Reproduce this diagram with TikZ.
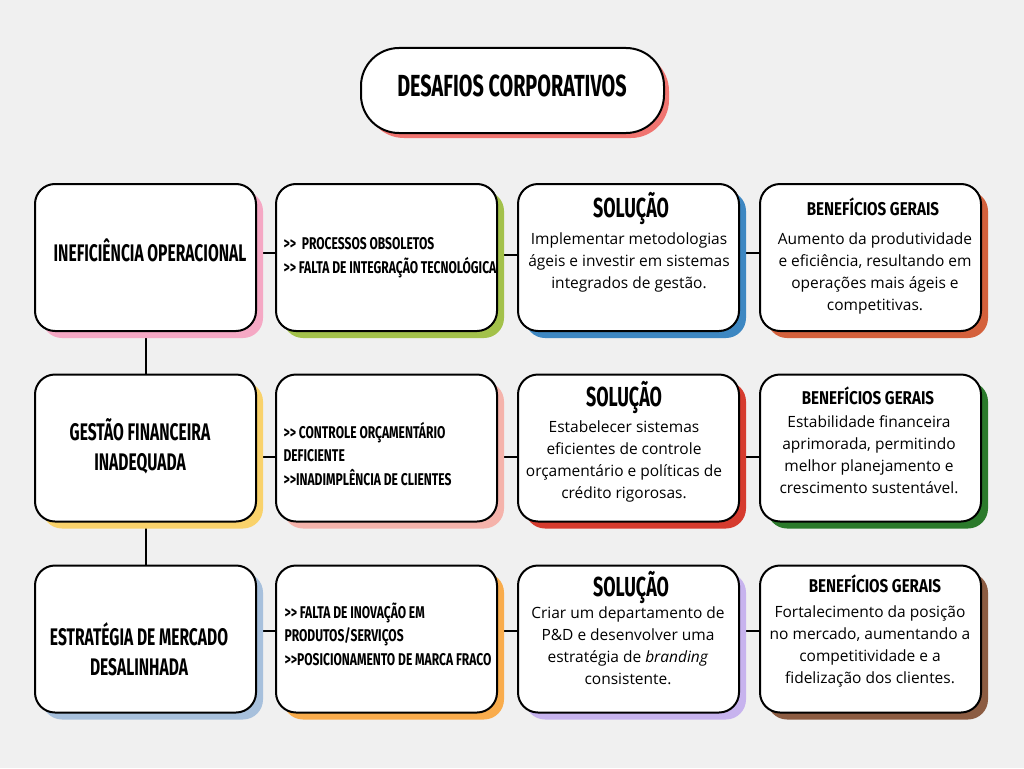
\documentclass[tikz,border=0pt]{standalone}
\usepackage{fontspec}
\setmainfont{Open Sans}
\newfontfamily\capsfont[FakeStretch=0.65]{Fira Sans}
\newfontfamily\capsmid[FakeStretch=0.71]{Fira Sans}
\newfontfamily\capswide[FakeStretch=0.82]{Fira Sans}
\usetikzlibrary{shadows}

\definecolor{fundo}{HTML}{F0F0F0}
\definecolor{sombraTitulo}{HTML}{F07470}
% sombras, linha 1
\definecolor{rosa}{HTML}{F5A8C4}
\definecolor{oliva}{HTML}{A3C14A}
\definecolor{azul}{HTML}{3D87C2}
\definecolor{telha}{HTML}{D4613C}
% linha 2
\definecolor{amarelo}{HTML}{F9D26B}
\definecolor{salmao}{HTML}{F5B3AB}
\definecolor{vermelho}{HTML}{D63B2E}
\definecolor{verde}{HTML}{2B7A2B}
% linha 3
\definecolor{azulclaro}{HTML}{A7C0DC}
\definecolor{laranja}{HTML}{F9AC4C}
\definecolor{lilas}{HTML}{C7B3EE}
\definecolor{marrom}{HTML}{8C5C42}

\pgfdeclarelayer{back}
\pgfsetlayers{back,main}

\tikzset{
  card/.style={draw=black, line width=2pt, fill=white, rounded corners=20pt,
    minimum width=221pt, minimum height=147pt, inner sep=0pt,
    general shadow={fill=#1, shadow xshift=7pt, shadow yshift=-7pt}},
  probtxt/.style={font=\capsfont\bfseries\fontsize{24}{30}\selectfont, align=center},
  causatxt/.style={font=\capsmid\bfseries\fontsize{17}{23.5}\selectfont, align=left, anchor=west},
  soltitle/.style={font=\capsfont\bfseries\fontsize{27.5}{30}\selectfont},
  beneftitle/.style={font=\capswide\bfseries\fontsize{18.5}{22}\selectfont},
  bodytxt/.style={font=\fontsize{15.5}{22}\selectfont, align=center},
  link/.style={line width=2pt}
}

\begin{document}
\begin{tikzpicture}[x=1pt, y=-1pt]
\useasboundingbox (0,0) rectangle (1024,768);
\begin{pgfonlayer}{back}
\fill[fundo] (0,0) rectangle (1024,768);
\end{pgfonlayer}

% titulo
\node[draw=black, line width=2pt, fill=white, rounded corners=38pt,
  minimum width=303pt, minimum height=85pt,
  general shadow={fill=sombraTitulo, shadow xshift=5pt, shadow yshift=-5pt}]
  (desafios) at (512.5,90.5) {};
\node[font=\capsfont\bfseries\fontsize{30.5}{36}\selectfont] (desafiosT) at (512,86) {DESAFIOS CORPORATIVOS};

% linha 1
\node[card=rosa]  (prob1)  at (145.5,257.5) {};
\node[card=oliva] (causa1) at (386.5,257.5) {};
\node[card=azul]  (sol1)   at (628.5,257.5) {};
\node[card=telha] (benef1) at (870.5,257.5) {};

% linha 2
\node[card=amarelo]  (prob2)  at (145.5,448) {};
\node[card=salmao]   (causa2) at (386.5,448) {};
\node[card=vermelho] (sol2)   at (628.5,448) {};
\node[card=verde]    (benef2) at (870.5,448) {};

% linha 3
\node[card=azulclaro] (prob3)  at (145.5,639) {};
\node[card=laranja]   (causa3) at (386.5,639) {};
\node[card=lilas]     (sol3)   at (628.5,639) {};
\node[card=marrom]    (benef3) at (870.5,639) {};

\begin{pgfonlayer}{back}
\draw[link] (prob1.south) -- (prob2.north);
\draw[link] (prob2.south) -- (prob3.north);
\draw[link] ([yshift=4.5pt]prob1.east) -- ([yshift=4.5pt]causa1.west);
\draw[link] ([yshift=2.5pt]causa1.east) -- ([yshift=2.5pt]sol1.west);
\draw[link] ([yshift=5pt]sol1.east) -- ([yshift=5pt]benef1.west);
\draw[link] ([yshift=-9pt]prob2.east) -- ([yshift=-9pt]causa2.west);
\draw[link] ([yshift=-9pt]causa2.east) -- ([yshift=-9pt]sol2.west);
\draw[link] ([yshift=-9pt]sol2.east) -- ([yshift=-9pt]benef2.west);
\draw[link] ([yshift=8pt]prob3.east) -- ([yshift=8pt]causa3.west);
\draw[link] ([yshift=8pt]causa3.east) -- ([yshift=8pt]sol3.west);
\draw[link] ([yshift=8pt]sol3.east) -- ([yshift=8pt]benef3.west);
\end{pgfonlayer}

% textos
\node[probtxt] (prob1T) at (150,250) {INEFICIÊNCIA OPERACIONAL};
\node[probtxt] (prob2T) at (140,446) {GESTÃO FINANCEIRA\\INADEQUADA};
\node[probtxt] (prob3T) at (139,649) {ESTRATÉGIA DE MERCADO\\DESALINHADA};

\node[causatxt] (causa1T) at (280,257.5) {{>}{>}\ \ PROCESSOS OBSOLETOS\\{>}{>} FALTA DE INTEGRAÇÃO TECNOLÓGICA};
\node[causatxt] (causa2T) at (280,454) {{>}{>} CONTROLE ORÇAMENTÁRIO\\DEFICIENTE\\{>}{>}INADIMPLÊNCIA DE CLIENTES};
\node[causatxt] (causa3T) at (281,634) {{>}{>} FALTA DE INOVAÇÃO EM\\PRODUTOS/SERVIÇOS\\{>}{>}POSICIONAMENTO DE MARCA FRACO};

\node[soltitle] (sol1H) at (631,208) {SOLUÇÃO};
\node[soltitle] (sol2H) at (624,397) {SOLUÇÃO};
\node[soltitle] (sol3H) at (631,587) {SOLUÇÃO};
\node[bodytxt] (sol1T) at (629,262) {Implementar metodologias\\ágeis e investir em sistemas\\integrados de gestão.};
\node[bodytxt] (sol2T) at (624,461) {Estabelecer sistemas\\eficientes de controle\\orçamentário e políticas de\\crédito rigorosas.};
\node[bodytxt] (sol3T) at (628,645.5) {Criar um departamento de\\P\&D e desenvolver uma\\estratégia de \textit{branding}\\consistente.};

\node[beneftitle] (benef1H) at (873,207) {BENEFÍCIOS GERAIS};
\node[beneftitle] (benef2H) at (868,396) {BENEFÍCIOS GERAIS};
\node[beneftitle] (benef3H) at (875,584) {BENEFÍCIOS GERAIS};
\node[bodytxt] (benef1T) at (875,273.5) {Aumento da produtividade\\e eficiência, resultando em\\operações mais ágeis e\\competitivas.};
\node[bodytxt] (benef2T) at (869,455) {Estabilidade financeira\\aprimorada, permitindo\\melhor planejamento e\\crescimento sustentável.};
\node[bodytxt] (benef3T) at (870,646.5) {Fortalecimento da posição\\no mercado, aumentando a\\competitividade e a\\fidelização dos clientes.};
\end{tikzpicture}
\end{document}
